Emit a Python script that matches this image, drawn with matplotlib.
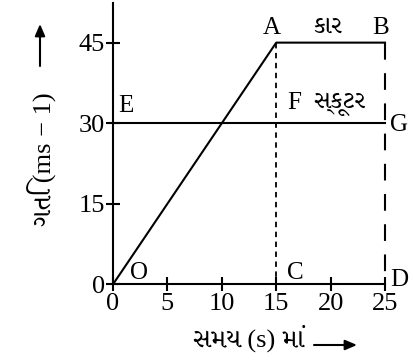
import matplotlib
matplotlib.use("Agg")
import matplotlib.pyplot as plt

# velocity-time data (s, m/s)
car_t = [0, 15, 25]
car_v = [0, 45, 45]
scooter_t = [0, 25]
scooter_v = [30, 30]
xticks = [0, 5, 10, 15, 20, 25]
yticks = [0, 15, 30, 45]

plt.rcParams["font.family"] = ["Liberation Serif", "Noto Serif Gujarati", "DejaVu Serif"]

W, H = 414, 361
fig = plt.figure(figsize=(W / 100, H / 100), dpi=100)
ax = fig.add_axes([0.273, 0.2125, 0.657, 0.778])
ax.set_xlim(0, 25)
ax.set_ylim(0, 52.3)

ax.plot(car_t, car_v, color="black", lw=1.5, clip_on=False)
ax.plot(scooter_t, scooter_v, color="black", lw=1.5, clip_on=False)
ax.plot([15, 15], [45, 0], color="black", lw=1.3, ls=(0, (3, 2.5)))
ax.plot([25, 25], [45, 0], color="black", lw=1.5, ls=(0, (8, 6.5)), clip_on=False)

for s in ["top", "right"]:
    ax.spines[s].set_visible(False)
for s in ["left", "bottom"]:
    ax.spines[s].set_linewidth(1.5)
ax.set_xticks(xticks)
ax.set_yticks(yticks)
ax.tick_params(direction="inout", length=10, width=1.5, labelsize=19, pad=1)

fs = 18
ax.text(1.6, 0.9, "O", fontsize=fs)
ax.text(13.8, 46.6, "A", fontsize=fs)
ax.text(23.8, 46.6, "B", fontsize=fs)
ax.text(16.0, 0.9, "C", fontsize=fs)
ax.text(25.5, -0.3, "D", fontsize=fs)
ax.text(0.5, 32.0, "E", fontsize=fs)
ax.text(16.0, 32.6, "F", fontsize=fs)
ax.text(25.5, 28.6, "G", fontsize=fs)
ax.text(19.7, 46.8, "કાર", fontsize=fs, ha="center")
ax.text(20.8, 32.8, "સ્કૂટર", fontsize=fs, ha="center")

# axis titles with separate arrows
fig.text(248 / W, 1 - 338 / H, "સમય (s) માં", fontsize=19, ha="center", va="center")
fig.text(42 / W, 1 - 159 / H, "ગતિ (ms − 1)", fontsize=19, ha="center", va="center",
         rotation=90)
arrow = dict(arrowstyle="-|>,head_length=0.7,head_width=0.3", color="black", lw=1.5,
             shrinkA=0, shrinkB=0)
ax.annotate("", xy=(357 / W, 1 - 345 / H), xytext=(314 / W, 1 - 345 / H),
            xycoords="figure fraction", arrowprops=arrow, annotation_clip=False)
ax.annotate("", xy=(40 / W, 1 - 24 / H), xytext=(40 / W, 1 - 66 / H),
            xycoords="figure fraction", arrowprops=arrow, annotation_clip=False)

fig.savefig("out.png", dpi=100)
